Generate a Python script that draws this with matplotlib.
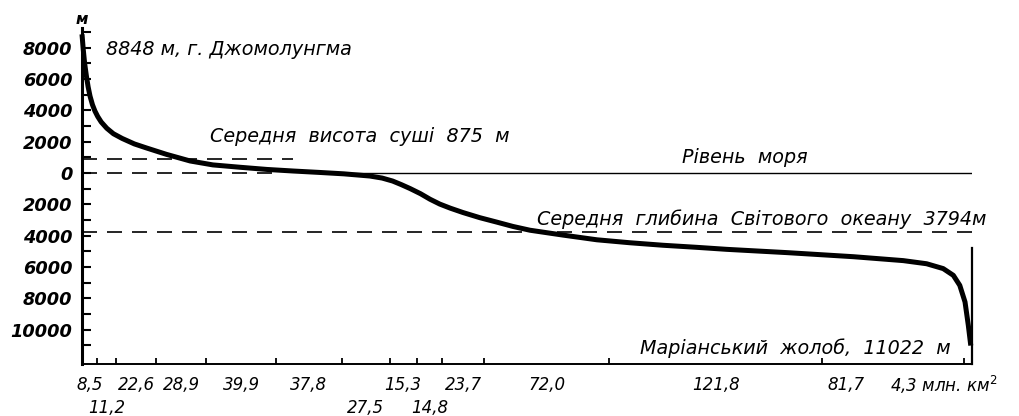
import matplotlib
matplotlib.use('Agg')
import matplotlib.pyplot as plt
import numpy as np

# --- data -------------------------------------------------------------
# areas of elevation bands (million km^2), from highest land to deepest ocean
band_areas = [8.5, 11.2, 22.6, 28.9, 39.9, 37.8, 27.5, 15.3, 14.8, 23.7, 72.0, 121.8, 81.7, 4.3]
band_labels = ['8,5', '11,2', '22,6', '28,9', '39,9', '37,8', '27,5', '15,3', '14,8',
               '23,7', '72,0', '121,8', '81,7', '4,3 млн. км$^2$']
label_rows = [0, 1, 0, 0, 0, 0, 1, 0, 1, 0, 0, 0, 0, 0]

# hypsographic curve: cumulative area (mln km^2) vs elevation (m)
curve_area = [0, 0.7, 1.5, 2.5, 3.5, 4.6, 6, 7.4, 9, 11, 14.2, 18, 23, 30, 37, 48.5,
              62, 75, 90.5, 106, 121, 136, 150, 165, 172, 178, 183, 188, 194, 199.4,
              205, 211, 218.3, 228, 237.6, 247, 256.7, 275.6, 295, 314, 333, 352,
              369.4, 404, 442, 470.6, 484, 493.5, 499.3, 503, 506, 507.9, 509.3]
curve_elev = [8848, 7900, 7000, 6200, 5500, 4900, 4350, 3950, 3600, 3250, 2850, 2500,
              2200, 1850, 1590, 1180, 760, 510, 360, 220, 120, 30, -60, -200, -330,
              -520, -750, -1000, -1330, -1680, -1990, -2250, -2530, -2860, -3140,
              -3420, -3660, -3970, -4270, -4460, -4620, -4750, -4880, -5090, -5350,
              -5600, -5800, -6110, -6540, -7180, -8240, -9740, -11022]

mean_land = 875
mean_depth = -3794
total_area = 510

ytick_vals = [8000, 6000, 4000, 2000, 0, -2000, -4000, -6000, -8000, -10000]
ytick_labels = ['8000', '6000', '4000', '2000', '0', '2000', '4000', '6000', '8000', '10000']
yminor_vals = [9000, 7000, 5000, 3000, 1000, -1000, -3000, -5000, -7000, -9000, -11000]

# --- figure -----------------------------------------------------------
W, H = 1019, 416
fig = plt.figure(figsize=(W / 100, H / 100), dpi=100)
ax = fig.add_axes([82 / W, 1 - 364 / H, 890 / W, 336 / H])
ax.set_xlim(0, total_area)
ax.set_ylim(-12200, 9250)

for s in ('top', 'right'):
    ax.spines[s].set_visible(False)
ax.spines['left'].set_linewidth(2.2)
ax.spines['bottom'].set_linewidth(1.4)

dash = (0, (9, 6))
ax.plot([0, 121], [mean_land, mean_land], color='black', lw=1.2, ls=dash)
ax.plot([0, 109.5], [0, 0], color='black', lw=1.2, ls=dash)
ax.plot([145, total_area], [0, 0], color='black', lw=1.0)
ax.plot([0, total_area], [mean_depth, mean_depth], color='black', lw=1.2, ls=dash)
ax.plot([total_area, total_area], [-4800, -12200], color='black', lw=1.6, clip_on=False)

ax.plot(curve_area, curve_elev, color='black', lw=3.6,
        solid_joinstyle='round', solid_capstyle='butt', clip_on=False)

# y ticks
ax.set_yticks(ytick_vals)
ax.set_yticklabels(ytick_labels)
ax.set_yticks(yminor_vals, minor=True)
ax.tick_params(axis='y', which='both', direction='in', length=6.5, width=1.5, pad=7)
for t in ax.get_yticklabels():
    t.set_fontfamily('DejaVu Sans')
    t.set_fontstyle('oblique')
    t.set_fontweight('bold')
    t.set_fontsize(12.8)

# x ticks at band boundaries
bounds = np.cumsum(band_areas)
ax.set_xticks(bounds[:-1])
ax.set_xticklabels([])
ax.tick_params(axis='x', which='both', direction='in', length=4.5, width=1.3)

starts = np.concatenate([[0], bounds[:-1]])
centers = (starts + bounds) / 2
lbl_font = dict(family='DejaVu Sans', style='oblique', fontsize=12)
for i, (c, lab, row) in enumerate(zip(centers, band_labels, label_rows)):
    ha = 'center'
    xpos = c
    if i == len(band_labels) - 2:
        xpos = c - 27
    if i == len(band_labels) - 1:
        xpos = c - 45
        ha = 'left'
    ax.annotate(lab, xy=(xpos, 0), xycoords=('data', 'axes fraction'),
                xytext=(0, -15 - row * 16.5), textcoords='offset points',
                ha=ha, va='center', annotation_clip=False, **lbl_font)

# unit label on the y axis
ax.annotate('м', xy=(0, 1), xycoords='axes fraction', xytext=(0, 6),
            textcoords='offset points', ha='center', va='center',
            family='DejaVu Sans', style='oblique', fontweight='bold', fontsize=11)

# annotations
txt_font = dict(family='DejaVu Sans', style='oblique', fontsize=13.8)
ax.text(14, 7850, '8848 м, г. Джомолунгма', ha='left', va='center', **txt_font)
ax.text(73.4, 2000, 'Середня  висота  суші  875  м', ha='left', va='baseline', **txt_font)
ax.text(344, 600, 'Рівень  моря', ha='left', va='baseline', **txt_font)
ax.text(260.7, -3350, 'Середня  глибина  Світового  океану  3794м', ha='left',
        va='baseline', clip_on=False, **txt_font)
ax.text(320, -11550, 'Маріанський  жолоб,  11022  м', ha='left', va='baseline', **txt_font)

fig.savefig('out.png', dpi=100)
